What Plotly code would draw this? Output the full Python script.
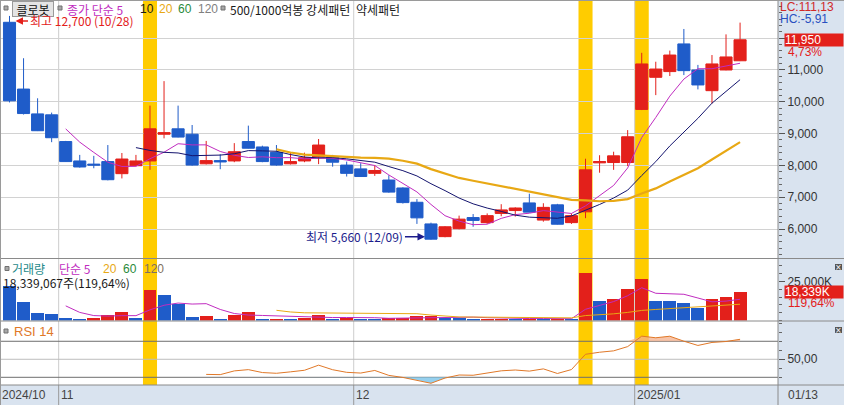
import numpy as np
import pandas as pd
import plotly.graph_objects as go

W, H = 844, 405

# ---------------- data ----------------
dates = ["2024-10-28", "2024-10-29", "2024-10-30", "2024-10-31",
         "2024-11-01", "2024-11-04", "2024-11-05", "2024-11-06", "2024-11-07", "2024-11-08",
         "2024-11-11", "2024-11-12", "2024-11-13", "2024-11-14", "2024-11-15",
         "2024-11-18", "2024-11-19", "2024-11-20", "2024-11-21", "2024-11-22",
         "2024-11-25", "2024-11-26", "2024-11-27", "2024-11-28", "2024-11-29",
         "2024-12-02", "2024-12-03", "2024-12-04", "2024-12-05", "2024-12-06",
         "2024-12-09", "2024-12-10", "2024-12-11", "2024-12-12", "2024-12-13",
         "2024-12-16", "2024-12-17", "2024-12-18", "2024-12-19", "2024-12-20",
         "2024-12-23", "2024-12-24", "2024-12-26", "2024-12-27", "2024-12-30",
         "2025-01-02", "2025-01-03", "2025-01-06", "2025-01-07", "2025-01-08",
         "2025-01-09", "2025-01-10", "2025-01-13"]
opens = [12500, 10400, 9620, 9590, 8750, 8140, 8040, 8120, 7740, 7990,
         8140, 8980, 9150, 8980, 8050, 8150, 8140, 8750, 8580, 8410,
         8050, 8140, 8270, 8260, 8010, 7890, 7750, 7540, 7290, 6840,
         6160, 5760, 6010, 6360, 6200, 6490, 6580, 6820, 6280, 6760,
         6200, 6540, 8080, 8090, 8090, 9760, 10770, 10950, 11820, 11000,
         10350, 11000, 11290]
highs = [12700, 11370, 10110, 9660, 8770, 8330, 8300, 8640, 8390, 8330,
         9880, 10650, 9880, 9270, 8770, 8350, 8700, 9250, 8620, 8640,
         8410, 8400, 8830, 8330, 8120, 8070, 8010, 7690, 7310, 6940,
         6200, 6090, 6420, 6470, 6490, 6780, 6680, 7110, 6810, 6790,
         6490, 8210, 8320, 8430, 9110, 11540, 11260, 11610, 12290, 11160,
         11470, 12120, 12490]
lows = [9980, 9600, 9080, 8730, 8110, 7930, 7910, 7530, 7590, 7990,
        7860, 8850, 8880, 7990, 8030, 7880, 8100, 8530, 8100, 7990,
        8030, 8100, 8040, 7960, 7650, 7640, 7670, 7140, 6800, 6160,
        5660, 5740, 5990, 6070, 6160, 6400, 6390, 6520, 6230, 6140,
        6160, 6340, 7770, 7860, 7980, 9740, 10210, 10810, 10840, 10390,
        9950, 10990, 11280]
closes = [10030, 9630, 9090, 8870, 8120, 7950, 8010, 7550, 8200, 8140,
          9150, 9030, 8890, 8010, 8150, 8110, 8430, 8540, 8120, 8010,
          8120, 8240, 8640, 8100, 7750, 7650, 7840, 7160, 6830, 6350,
          5680, 6070, 6310, 6270, 6420, 6600, 6660, 6530, 6680, 6150,
          6420, 7860, 8120, 8300, 8900, 11190, 11030, 11470, 10980, 10530,
          11190, 11410, 11950]
volumes = [22400000, 12350000, 5310000, 4670000, 2110000, 1470000, 2150000, 3840000, 5950000, 2110000,
           20030000, 16830000, 10880000, 2750000, 3390000, 1470000, 3840000, 5950000, 1470000, 1600000,
           830000, 1900000, 3700000, 1450000, 1750000, 1150000, 950000, 1700000, 2100000, 2900000,
           3100000, 1900000, 1700000, 1150000, 1250000, 1550000, 880000, 1450000, 1150000, 1450000,
           870000, 31000000, 13100000, 14100000, 20200000, 26600000, 13100000, 12500000, 11500000, 8300000,
           14400000, 15328000, 18339067]
highlight_dates = ["2024-11-11", "2024-12-24", "2025-01-02"]
month_labels = ["2024/10", "11", "12", "2025/01"]
price_ticks = [6000, 7000, 8000, 9000, 10000, 11000, 12000]
volume_ticks = [25000000]
rsi_ticks = [50]
rsi_levels = [70, 50, 30]
price_ma_periods = [5, 10, 20]
volume_ma_periods = [5, 20]
rsi_period = 14

# ---------------- styles ----------------
RED = "#e3201b"
BLUE = "#1f5cc9"
MAG = "#c02cc0"
NAVY = "#14146e"
GOLD = "#e8a814"
KR = "Noto Sans CJK KR, Noto Sans, sans-serif"
NUM = "Liberation Sans, Arial, sans-serif"
PANEL = "#d9e3ef"
SEP = "#8a8a8a"

n = len(closes)
xi = np.arange(n)
dts = pd.to_datetime(dates)
c = pd.Series(closes, dtype=float)
v = pd.Series(volumes, dtype=float)

ma_cols = {5: MAG, 10: NAVY, 20: GOLD}
ma_w = {5: 1, 10: 1, 20: 2.2}

# RSI (Wilder)
delta = c.diff()
gain = delta.clip(lower=0).values
loss = (-delta.clip(upper=0)).values
ag = np.full(n, np.nan)
al = np.full(n, np.nan)
ag[rsi_period] = np.mean(gain[1:rsi_period + 1])
al[rsi_period] = np.mean(loss[1:rsi_period + 1])
for i in range(rsi_period + 1, n):
    ag[i] = (ag[i - 1] * (rsi_period - 1) + gain[i]) / rsi_period
    al[i] = (al[i - 1] * (rsi_period - 1) + loss[i]) / rsi_period
rsi = 100 - 100 / (1 + ag / al)

vol_colors = [BLUE] + [RED if volumes[i] > volumes[i - 1] else BLUE for i in range(1, n)]

# ---------------- geometry helpers ----------------
def PX(x):
    return x / W

def PY(y):
    return 1 - y / H

X_END = 778
x_range = [-0.676, 54.7]

fig = go.Figure()

fig.add_trace(go.Candlestick(
    x=xi, open=opens, high=highs, low=lows, close=closes,
    increasing=dict(line=dict(color=RED, width=1), fillcolor=RED),
    decreasing=dict(line=dict(color=BLUE, width=1), fillcolor=BLUE),
    whiskerwidth=0, xaxis="x", yaxis="y", hoverinfo="skip"))

for p in price_ma_periods:
    fig.add_trace(go.Scatter(x=xi, y=c.rolling(p).mean(), mode="lines",
                             line=dict(color=ma_cols[p], width=ma_w[p]),
                             xaxis="x", yaxis="y", hoverinfo="skip"))

fig.add_trace(go.Bar(x=xi, y=volumes, marker=dict(color=vol_colors, line=dict(width=0)),
                     width=0.92, xaxis="x", yaxis="y2", hoverinfo="skip"))
vol_ma_cols = {5: MAG, 20: GOLD}
for p in volume_ma_periods:
    fig.add_trace(go.Scatter(x=xi, y=v.rolling(p).mean(), mode="lines",
                             line=dict(color=vol_ma_cols[p], width=1),
                             xaxis="x", yaxis="y2", hoverinfo="skip"))

# RSI fills
hi_lvl, lo_lvl = rsi_levels[0], rsi_levels[2]
mask = ~np.isnan(rsi)
fig.add_trace(go.Scatter(x=xi[mask], y=np.full(mask.sum(), hi_lvl), mode="lines",
                         line=dict(width=0, color="rgba(0,0,0,0)"), xaxis="x", yaxis="y3", hoverinfo="skip"))
fig.add_trace(go.Scatter(x=xi[mask], y=np.maximum(rsi[mask], hi_lvl), mode="lines",
                         line=dict(width=0, color="rgba(0,0,0,0)"), fill="tonexty",
                         fillcolor="rgba(244,176,140,0.75)", xaxis="x", yaxis="y3", hoverinfo="skip"))
fig.add_trace(go.Scatter(x=xi[mask], y=np.full(mask.sum(), lo_lvl), mode="lines",
                         line=dict(width=0, color="rgba(0,0,0,0)"), xaxis="x", yaxis="y3", hoverinfo="skip"))
fig.add_trace(go.Scatter(x=xi[mask], y=np.minimum(rsi[mask], lo_lvl), mode="lines",
                         line=dict(width=0, color="rgba(0,0,0,0)"), fill="tonexty",
                         fillcolor="rgba(130,200,235,0.85)", xaxis="x", yaxis="y3", hoverinfo="skip"))
fig.add_trace(go.Scatter(x=xi, y=rsi, mode="lines", line=dict(color="#e07828", width=1),
                         xaxis="x", yaxis="y3", hoverinfo="skip"))

# ---------------- shapes ----------------
shapes = []
shapes.append(dict(type="rect", xref="paper", yref="paper", x0=PX(X_END), x1=1, y0=0, y1=1,
                   fillcolor=PANEL, line=dict(width=0), layer="below"))
shapes.append(dict(type="rect", xref="paper", yref="paper", x0=0, x1=1, y0=0, y1=PY(385),
                   fillcolor=PANEL, line=dict(width=0), layer="below"))
for d in highlight_dates:
    i = int(np.where(dts == pd.Timestamp(d))[0][0])
    shapes.append(dict(type="rect", xref="x", yref="paper", x0=i - 0.5, x1=i + 0.5,
                       y0=PY(385), y1=PY(1), fillcolor="#ffcc00", line=dict(width=0), layer="below"))
month_idx = [0] + [i for i in range(1, n) if dts[i].month != dts[i - 1].month]
for i in month_idx[1:]:
    shapes.append(dict(type="line", xref="x", yref="paper", x0=i - 0.5, x1=i - 0.5,
                       y0=PY(385), y1=PY(1), line=dict(color="#cdcdcd", width=1), layer="below"))
    shapes.append(dict(type="line", xref="x", yref="paper", x0=i - 0.5, x1=i - 0.5,
                       y0=0, y1=PY(385), line=dict(color="#9a9a9a", width=1)))
for lvl in rsi_levels:
    shapes.append(dict(type="line", xref="paper", yref="y3", x0=0, x1=PX(X_END), y0=lvl, y1=lvl,
                       line=dict(color="#bdbdbd" if lvl == 50 else "#6e6e6e", width=1), layer="below"))
for yy in [258.5, 321, 385]:
    shapes.append(dict(type="line", xref="paper", yref="paper", x0=0, x1=1, y0=PY(yy), y1=PY(yy),
                       line=dict(color=SEP, width=1)))
shapes.append(dict(type="line", xref="paper", yref="paper", x0=PX(X_END), x1=PX(X_END), y0=0, y1=1,
                   line=dict(color=SEP, width=1)))
shapes.append(dict(type="line", xref="paper", yref="paper", x0=PX(0.5), x1=PX(0.5), y0=0, y1=1,
                   line=dict(color="#9a9a9a", width=1)))
shapes.append(dict(type="line", xref="paper", yref="paper", x0=0, x1=1, y0=PY(0.5), y1=PY(0.5),
                   line=dict(color="#9a9a9a", width=1)))
for (sx, sy) in [(4, 8), (58, 8), (221, 8), (5, 268.5), (4, 331)]:
    shapes.append(dict(type="rect", xref="paper", yref="paper", x0=PX(sx), x1=PX(sx + 4),
                       y0=PY(sy + 2), y1=PY(sy - 2), fillcolor="#a8a8a8", line=dict(color="#707070", width=1)))
for sy in [264, 327]:
    shapes.append(dict(type="rect", xref="paper", yref="paper", x0=PX(835), x1=PX(842),
                       y0=PY(sy + 6), y1=PY(sy), fillcolor="#555555", line=dict(width=0)))

# ---------------- annotations ----------------
ann = []

def label(xp, yp, text, color, size=12, family=KR, xanchor="left", **kw):
    d = dict(x=PX(xp), y=PY(yp), xref="paper", yref="paper", text=text, showarrow=False,
             font=dict(family=family, size=size, color=color), xanchor=xanchor, yanchor="middle",
             borderpad=0)
    d.update(kw)
    ann.append(d)

label(12, 8.5, "클로봇", "#111111", size=12, bgcolor="#e4e4e4", bordercolor="#9a9a9a",
      borderwidth=1, width=40, height=14, borderpad=0, align="center")
label(66, 9, "종가 단순 5", MAG)
label(139, 9, "10", "#1a1a1a", family=NUM, size=12)
label(158, 9, "20", GOLD, family=NUM, size=12)
label(177, 9, "60", "#2a8a3a", family=NUM, size=12)
label(197, 9, "120", "#808080", family=NUM, size=12)
label(229, 9, "500/1000억봉 강세패턴", "#1a1a1a")
label(355, 9, "약세패턴", "#1a1a1a")

label(11, 268.5, "거래량", "#1f8a8a")
label(58, 268.5, "단순 5", MAG)
label(102, 268.5, "20", GOLD, family=NUM, size=12)
label(122, 268.5, "60", "#2a8a3a", family=NUM, size=12)
label(143, 268.5, "120", "#807060", family=NUM, size=12)
vol_pct = volumes[-1] / volumes[-2] * 100
label(2, 282, f"{volumes[-1]:,}주({vol_pct:.2f}%)".replace(".", ","), "#1a1a1a")

label(13, 331.5, f"RSI {rsi_period}", "#e07828", family=NUM, size=13)

i_hi = int(np.argmax(highs))
i_lo = int(np.argmin(lows))
ann.append(dict(x=i_hi, y=highs[i_hi], xref="x", yref="y",
                text=f"최고 {highs[i_hi]:,} ({dts[i_hi]:%m/%d})", showarrow=True,
                arrowhead=2, arrowsize=1, arrowwidth=1.5, arrowcolor=RED, standoff=6,
                ax=72, ay=0, yshift=-5, font=dict(family=KR, size=12, color=RED)))
ann.append(dict(x=i_lo, y=lows[i_lo], xref="x", yref="y",
                text=f"최저 {lows[i_lo]:,} ({dts[i_lo]:%m/%d})", showarrow=True,
                arrowhead=2, arrowsize=1, arrowwidth=1.5, arrowcolor="#1c1c8c", standoff=6,
                ax=-76, ay=0, yshift=3, font=dict(family=KR, size=12, color="#1c1c8c")))

last = closes[-1]
lc = (last - min(lows)) / min(lows) * 100
hc = (last - max(highs)) / max(highs) * 100
chg = (closes[-1] / closes[-2] - 1) * 100
label(779, 7.5, f"LC:{lc:.2f}".replace(".", ","), "#d02828", family=NUM, size=12)
label(779, 19, f"HC:{hc:.2f}".replace(".", ","), "#2850c0", family=NUM, size=12)
ann.append(dict(x=PX(784), y=last, xref="paper", yref="y", text=f"{last:,}", showarrow=False,
                xanchor="left", yanchor="middle", width=58, height=12, align="left", bgcolor=RED,
                borderpad=0, font=dict(family=NUM, size=12, color="white")))
ann.append(dict(x=PX(786), y=last, xref="paper", yref="y", text=f"{chg:.2f}%".replace(".", ","),
                showarrow=False, xanchor="left", yanchor="middle", yshift=-12,
                font=dict(family=NUM, size=12, color=RED)))
ann.append(dict(x=PX(784), y=volumes[-1], xref="paper", yref="y2",
                text=f"{round(volumes[-1] / 1000):,}K", showarrow=False,
                xanchor="left", yanchor="middle", width=58, height=12, align="left", bgcolor=RED,
                borderpad=0, font=dict(family=NUM, size=12, color="white")))
ann.append(dict(x=PX(786), y=volumes[-1], xref="paper", yref="y2",
                text=f"{vol_pct:.2f}%".replace(".", ","), showarrow=False, xanchor="left",
                yanchor="middle", yshift=-11, font=dict(family=NUM, size=12, color=RED)))
for sy in [267, 330]:
    label(838.5, sy, "×", "white", size=8, family="DejaVu Sans", xanchor="center")

for lab, i in zip(month_labels, month_idx):
    xpx = 1 if i == 0 else (i - 0.5 - x_range[0]) / (x_range[1] - x_range[0]) * X_END + 1
    label(xpx, 395, lab, "#444444", family=NUM, size=12)
label(787, 395, f"{dts[-1]:%m/%d}", "#444444", family=NUM, size=12)

def fmt(vv):
    return f"{vv:,}"

fig.update_layout(
    width=W, height=H, margin=dict(l=0, r=0, t=0, b=0),
    paper_bgcolor="white", plot_bgcolor="white", showlegend=False,
    boxgap=0.14, boxgroupgap=0, bargap=0,
    shapes=shapes, annotations=ann,
    xaxis=dict(domain=[0, PX(X_END)], range=x_range, visible=False, rangeslider=dict(visible=False),
               fixedrange=True),
    yaxis=dict(domain=[PY(258), PY(2)], range=[5088, 13138], side="right", anchor="x",
               tickvals=price_ticks, ticktext=[fmt(t) if t < 12000 else "" for t in price_ticks],
               ticks="outside", ticklen=6, tickcolor="#555555", showline=False,
               showgrid=True, gridcolor="#d2d2d2", gridwidth=1, zeroline=False,
               tickfont=dict(family=NUM, size=12, color="#333333"),
               minor=dict(ticks="outside", ticklen=3, tickcolor="#666666", dtick=200, tick0=0, showgrid=False)),
    yaxis2=dict(domain=[PY(320.5), PY(259.5)], range=[0, 39040000], side="right", anchor="x",
                tickvals=volume_ticks, ticktext=[f"{t // 1000:,}K" for t in volume_ticks],
                ticks="outside", ticklen=6, tickcolor="#555555", showgrid=False, zeroline=False,
                tickfont=dict(family=NUM, size=12, color="#333333"),
                minor=dict(ticks="outside", ticklen=3, tickcolor="#666666", dtick=5000000, tick0=0, showgrid=False)),
    yaxis3=dict(domain=[PY(384.5), PY(322)], range=[22.0, 91.4], side="right", anchor="x",
                tickvals=rsi_ticks, ticktext=[f"{t:.2f}".replace(".", ",") for t in rsi_ticks],
                ticks="outside", ticklen=6, tickcolor="#555555", showgrid=False, zeroline=False,
                tickfont=dict(family=NUM, size=12, color="#333333"),
                minor=dict(ticks="outside", ticklen=3, tickcolor="#666666", dtick=10, tick0=0, showgrid=False)),
)

fig.write_html("out.html", config={"displayModeBar": False},
               post_script="document.body.style.margin='0px';document.body.style.overflow='hidden';")
